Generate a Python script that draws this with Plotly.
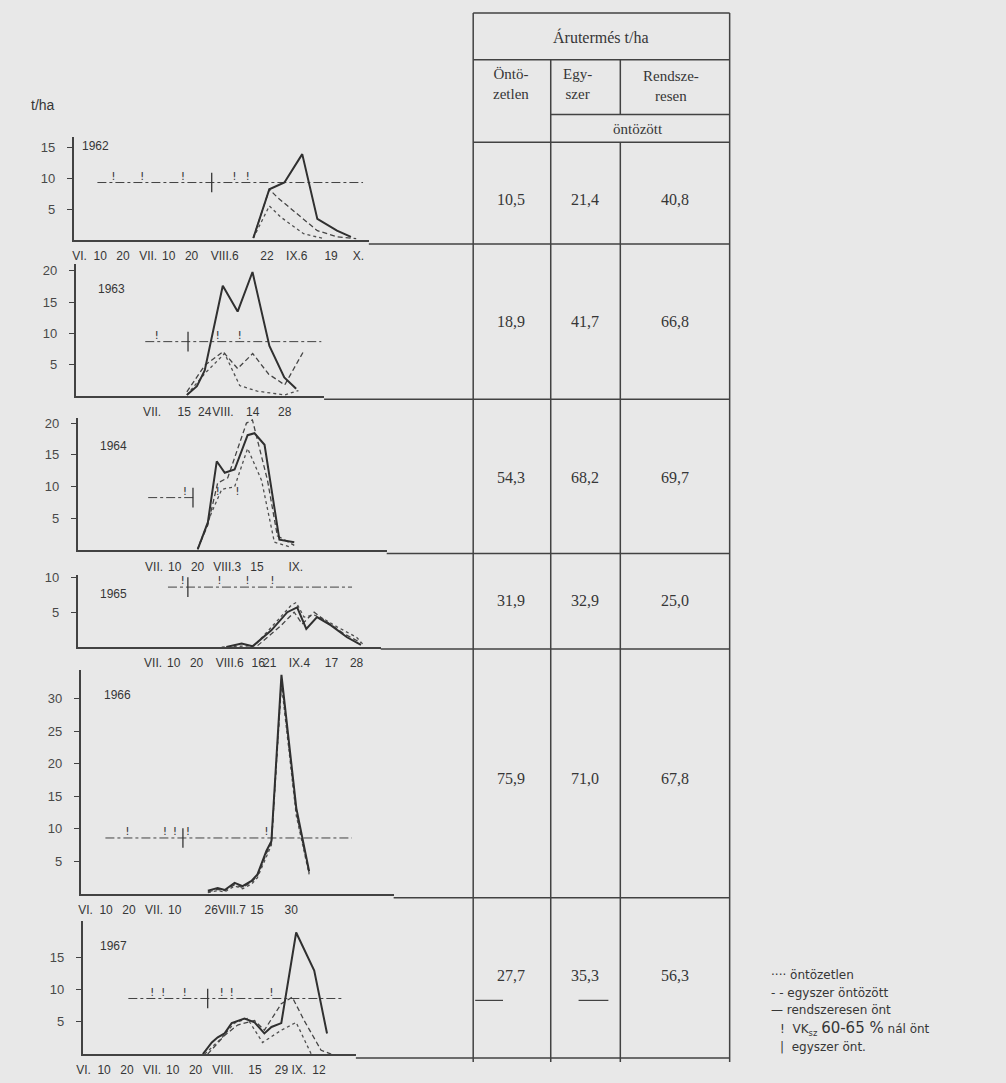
import plotly.graph_objects as go

W, H = 1006, 1083

# ---------------- DATA ----------------
years = ["1962", "1963", "1964", "1965", "1966", "1967"]

# x = day counted from 1 June (VI.1 = 0); y = harvest t/ha
# 1962
s62_day = [76, 83, 89.6, 97.4, 104, 112.6, 118.7]
s62_t = [0.3, 8.2, 9.3, 13.9, 3.4, 1.5, 0.5]
e62_day = [76, 83, 86.5, 95, 104, 112.6, 121]
e62_t = [0.3, 8.2, 6.9, 4.2, 1.5, 0.5, 0.2]
o62_day = [76, 83, 88, 98, 107]
o62_t = [0.3, 5.5, 3.7, 1.0, 0.2]
# 1963
s63_day = [45.2, 49.6, 53, 60.9, 67.4, 73.9, 81.3, 87.8, 93]
s63_t = [0.2, 1.6, 4.1, 17.6, 13.5, 19.8, 8, 3, 1.2]
e63_day = [45.2, 53, 61, 67.4, 74, 81, 88, 96]
e63_t = [0.7, 4.9, 7.1, 4.4, 6.8, 3.5, 1.8, 7]
o63_day = [45.2, 53, 61.7, 68.3, 76, 88, 94]
o63_t = [0.2, 3.6, 6.8, 1.7, 0.8, 0.2, 0.9]
# 1964
s64_day = [49.1, 53.5, 57.4, 60.9, 65.2, 70.9, 73.9, 78.3, 84.8, 91.3]
s64_t = [0.2, 4.4, 14, 12.2, 12.7, 18.1, 18.4, 16.6, 1.7, 1.3]
e64_day = [49, 53.5, 57.8, 62.2, 70.4, 73, 79.6, 83.9, 91.3]
e64_t = [0.2, 4, 10.6, 11.4, 20, 20.5, 11, 2.3, 0.8]
o64_day = [49, 55.2, 59.6, 65.2, 70.9, 77, 82.6, 90]
o64_t = [0.2, 6, 9.6, 10, 16, 11, 1.3, 0.5]
# 1965
s65_day = [62, 68.7, 73.5, 81.7, 88.7, 93, 97, 101.7, 107.8, 114.8, 120.9]
s65_t = [0, 0.5, 0.1, 2.4, 5, 5.7, 2.6, 4.3, 3.1, 1.4, 0.3]
e65_day = [75.7, 86, 91.7, 95.2, 100.4, 104.8, 113.5, 120.9]
e65_t = [0.2, 3.1, 5, 3.3, 5, 3.9, 1.9, 0.6]
o65_day = [60, 74.3, 83, 90.4, 92.6, 96, 100.4, 104.8, 110.4, 119, 122]
o65_t = [0, 0.2, 3.3, 6, 6.4, 4.3, 4.6, 4, 2.9, 1.4, 0.3]
# 1966
s66_day = [53.5, 57.8, 60.9, 65.2, 68.7, 72.6, 75.2, 79.1, 81.3, 85.7, 92.2, 97.8]
s66_t = [0.5, 0.9, 0.6, 1.7, 1.2, 2, 3, 6.6, 8.1, 33.7, 13.2, 3.5]
e66_day = [53.5, 57.8, 60.9, 65.2, 68.7, 72.6, 75.2, 79.1, 81.3, 85.7, 92.2, 97.8]
e66_t = [0.3, 0.7, 0.5, 1.4, 1.0, 1.8, 2.8, 6.2, 7.8, 33.0, 12.5, 3.2]
o66_day = [53.5, 57.8, 60.9, 65.2, 68.7, 72.6, 75.2, 79.1, 81.3, 85.7, 92.2, 97.8]
o66_t = [0.2, 0.5, 0.3, 1.2, 0.8, 1.5, 2.5, 5.8, 7.5, 32.3, 12.0, 3.0]
# 1967
s67_day = [52.2, 56.1, 58.7, 61.7, 64.8, 70.4, 74.8, 79.1, 82.2, 86.5, 93, 100.9, 106.5]
s67_t = [0, 1.8, 2.6, 3.2, 4.8, 5.5, 4.9, 3.2, 4.2, 4.8, 18.8, 12.9, 3.2]
e67_day = [54.3, 61.7, 67.4, 74.8, 79.1, 86.5, 91.3, 96.5, 103.9, 108.3]
e67_t = [0, 2.9, 4.5, 5.2, 3.7, 7.8, 8.8, 5.2, 0.6, 0]
o67_day = [53, 60.4, 66, 71.7, 78.3, 86.5, 93, 99.6]
o67_t = [0, 2.5, 4.8, 5.5, 1.8, 3.7, 4.9, 0]

# irrigation time-lines: level, span (days), VK 60-65% events, single irrigation
irr_level = [9.3, 8.7, 8.3, 8.6, 8.6, 8.6]
irr_span = [[7.8, 124], [27, 104], [27.4, 47.8], [36.5, 117], [8.7, 116.5], [19.6, 113]]
irr_vk = [[14.8, 27.4, 45.2, 67.8, 73.5], [32, 58.7, 68.3], [43.5, 57.8, 66.5],
          [43, 59, 71.3, 82.2], [18.3, 34.8, 39.1, 44.8, 79.1], [30, 34.8, 44.3, 60.4, 64.8, 82.2]]
irr_once = [[57.8], [45.7], [47], [45.2], [42.6], [54.3]]

# x tick labels (day, text)
xt_day = [
    [0, 9, 19, 30, 39, 49, 63.5, 82, 95, 110, 122],
    [30, 44, 53, 61, 74, 88],
    [30, 39, 49, 62, 75, 92],
    [30, 39, 49, 63.5, 76, 81, 94, 108, 119],
    [0, 9, 19, 30, 39, 55, 64, 75, 90],
    [0, 9, 19, 30, 39, 49, 61, 75, 90.5, 103],
]
xt_text = [
    ["VI.", "10", "20", "VII.", "10", "20", "VIII.6", "22", "IX.6", "19", "X."],
    ["VII.", "15", "24", "VIII.", "14", "28"],
    ["VII.", "10", "20", "VIII.3", "15", "IX."],
    ["VII.", "10", "20", "VIII.6", "16", "21", "IX.4", "17", "28"],
    ["VI.", "10", "20", "VII.", "10", "26", "VIII.7", "15", "30"],
    ["VI.", "10", "20", "VII.", "10", "20", "VIII.", "15", "29 IX.", "12"],
]
yt_vals = [[5, 10, 15], [5, 10, 15, 20], [5, 10, 15, 20], [5, 10], [5, 10, 15, 20, 25, 30], [5, 10, 15]]

# table values (Árutermés t/ha)
col_ontozetlen = [10.5, 18.9, 54.3, 31.9, 75.9, 27.7]
col_egyszer = [21.4, 41.7, 68.2, 32.9, 71.0, 35.3]
col_rendszeresen = [40.8, 66.8, 69.7, 25.0, 67.8, 56.3]

legend_texts = ["···· öntözetlen", "- - egyszer öntözött", "— rendszeresen önt",
                "!  VK<sub>sz</sub> <span style='font-size:15px'>60-65 %</span> nál önt",
                "|  egyszer önt."]

series = [
    (s62_day, s62_t, e62_day, e62_t, o62_day, o62_t),
    (s63_day, s63_t, e63_day, e63_t, o63_day, o63_t),
    (s64_day, s64_t, e64_day, e64_t, o64_day, o64_t),
    (s65_day, s65_t, e65_day, e65_t, o65_day, o65_t),
    (s66_day, s66_t, e66_day, e66_t, o66_day, o66_t),
    (s67_day, s67_t, e67_day, e67_t, o67_day, o67_t),
]

# ---------------- LAYOUT GEOMETRY (pixels) ----------------
panels = [
    dict(ax=68, xend=365, top=133, base=236, a=74, b=2.3, ys=6.2, lab=(90, 142)),
    dict(ax=70, xend=320, top=260, base=393, a=78, b=2.3, ys=6.3, lab=(106, 285)),
    dict(ax=72, xend=383, top=415, base=548, a=80, b=2.3, ys=6.4, lab=(108, 443)),
    dict(ax=72, xend=377, top=573, base=645, a=79, b=2.3, ys=7.0, lab=(108, 592)),
    dict(ax=75, xend=390, top=668, base=893, a=80, b=2.3, ys=6.53, lab=(112, 693)),
    dict(ax=77, xend=352, top=920, base=1054, a=78, b=2.3, ys=6.5, lab=(108, 945)),
]

INK = "#363636"
LINE = "#424242"
BG = "#e8e8e8"
SANS = "Liberation Sans Narrow, Liberation Sans, sans-serif"


def X(px):
    return px / W


def Y(py):
    return 1 - py / H


fig = go.Figure()
layout = dict(
    width=W, height=H, margin=dict(l=0, r=0, t=0, b=0),
    paper_bgcolor=BG, plot_bgcolor="rgba(0,0,0,0)", showlegend=False,
    font=dict(family=SANS, color=INK),
)

annotations = []
shapes = []

for i, p in enumerate(panels):
    n = i + 1
    xs = "x" if n == 1 else f"x{n}"
    ys = "y" if n == 1 else f"y{n}"
    xr = [(p["ax"] - p["a"]) / p["b"], (p["xend"] - p["a"]) / p["b"]]
    yr = [0, (p["base"] - p["top"]) / p["ys"]]
    layout[f"xaxis{n}"] = dict(
        domain=[X(p["ax"]), X(p["xend"])], range=xr, anchor=ys,
        showline=True, linecolor=LINE, linewidth=1.6, showgrid=False, zeroline=False,
        tickmode="array", tickvals=xt_day[i], ticktext=xt_text[i], ticks="", tickangle=0,
        tickfont=dict(size=12, color=INK, family=SANS), ticklabelstandoff=4, fixedrange=True,
    )
    layout[f"yaxis{n}"] = dict(
        domain=[Y(p["base"]), Y(p["top"])], range=yr, anchor=xs,
        showline=True, linecolor=LINE, linewidth=1.6, showgrid=False, zeroline=False,
        tickmode="array", tickvals=yt_vals[i], ticks="outside", ticklen=5, tickcolor=LINE,
        tickfont=dict(size=13, color="#484848", family=SANS), ticklabelstandoff=9, fixedrange=True,
    )
    sd, st, ed, et, od, ot = series[i]
    # irrigation time line
    lv = irr_level[i]
    fig.add_trace(go.Scatter(x=irr_span[i], y=[lv, lv], mode="lines", xaxis=xs, yaxis=ys,
                             line=dict(color=LINE, width=1, dash="dashdot")))
    fig.add_trace(go.Scatter(x=irr_vk[i], y=[lv] * len(irr_vk[i]), mode="text", text=["!"] * len(irr_vk[i]),
                             textposition="top center",
                             textfont=dict(size=11, color=INK, family="DejaVu Sans"),
                             xaxis=xs, yaxis=ys))
    fig.add_trace(go.Scatter(x=irr_once[i], y=[lv] * len(irr_once[i]), mode="markers",
                             marker=dict(symbol="line-ns", size=14, line=dict(width=1.3, color=INK)),
                             xaxis=xs, yaxis=ys))
    # yield curves
    fig.add_trace(go.Scatter(x=od, y=ot, mode="lines", xaxis=xs, yaxis=ys,
                             line=dict(color="#505050", width=1.3, dash="dot")))
    fig.add_trace(go.Scatter(x=ed, y=et, mode="lines", xaxis=xs, yaxis=ys,
                             line=dict(color="#454545", width=1.3, dash="5px,3px")))
    fig.add_trace(go.Scatter(x=sd, y=st, mode="lines", xaxis=xs, yaxis=ys,
                             line=dict(color="#303030", width=2)))
    # year label
    annotations.append(dict(x=X(p["lab"][0]), y=Y(p["lab"][1]), text=years[i],
                            font=dict(size=12, color=INK, family=SANS)))

# t/ha label
annotations.append(dict(x=X(37), y=Y(100), text="t/ha", font=dict(size=14, color=INK, family=SANS)))

# ---------------- TABLE ----------------
TL, TR = 470, 728
C1, C2 = 548, 618
row_bottoms = [240, 396, 551, 647, 897, 1058]
row_left = [365, 320, 383, 377, 390, 352]
row_centers = [195, 318, 475, 598, 777, 975]
TOP, HB = 8, 138


def hline(x0, x1, y, w=1.5):
    shapes.append(dict(type="line", xref="paper", yref="paper", x0=X(x0), x1=X(x1), y0=Y(y), y1=Y(y),
                       line=dict(color=LINE, width=w)))


def vline(x, y0, y1, w=1.5):
    shapes.append(dict(type="line", xref="paper", yref="paper", x0=X(x), x1=X(x), y0=Y(y0), y1=Y(y1),
                       line=dict(color=LINE, width=w)))


hline(TL, TR, TOP)
hline(TL, TR, 55)
hline(C1, TR, 110)
hline(TL, TR, HB)
vline(TL, TOP, 1062)
vline(TR, TOP, 1062)
vline(C1, 55, 1062)
vline(C2, 55, 110)
vline(C2, HB, 1062)
for yb, xl in zip(row_bottoms, row_left):
    hline(xl, TR, yb)
# small underlines in the 1967 row
hline(472, 500, 1000, 1.2)
hline(576, 606, 1000, 1.2)

SERIF = "Liberation Serif, DejaVu Serif, serif"
annotations += [
    dict(x=X(599), y=Y(32), text="Árutermés t/ha", font=dict(size=16, family=SERIF, color=INK)),
    dict(x=X(508), y=Y(79), text="Öntö-<br>zetlen", font=dict(size=15, family=SERIF, color=INK)),
    dict(x=X(575), y=Y(79), text="Egy-<br>szer", font=dict(size=15, family=SERIF, color=INK)),
    dict(x=X(669), y=Y(81), text="Rendsze-<br>resen", font=dict(size=15, family=SERIF, color=INK)),
    dict(x=X(636), y=Y(125), text="öntözött", font=dict(size=15, family=SERIF, color=INK)),
]
for yc, a_, b_, c_ in zip(row_centers, col_ontozetlen, col_egyszer, col_rendszeresen):
    for xc, v in ((508, a_), (582, b_), (673, c_)):
        annotations.append(dict(x=X(xc), y=Y(yc), text=f"{v:.1f}".replace(".", ","),
                                font=dict(size=16, family=SERIF, color=INK)))

# ---------------- LEGEND ----------------
leg_y = [975, 993, 1010, 1028, 1047]
leg_x = [768, 768, 768, 777, 777]
for t, lx, ly in zip(legend_texts, leg_x, leg_y):
    annotations.append(dict(x=X(lx), y=Y(ly), text=t, xanchor="left",
                            font=dict(size=12, family="DejaVu Sans, sans-serif", color=INK)))

for a in annotations:
    a.setdefault("xref", "paper")
    a.setdefault("yref", "paper")
    a.setdefault("showarrow", False)
    a.setdefault("xanchor", "center")
    a.setdefault("yanchor", "middle")

layout["annotations"] = annotations
layout["shapes"] = shapes
fig.update_layout(**layout)
fig.write_html("out.html", config={"displayModeBar": False},
               post_script="document.body.style.margin='0';document.body.style.overflow='hidden';")
